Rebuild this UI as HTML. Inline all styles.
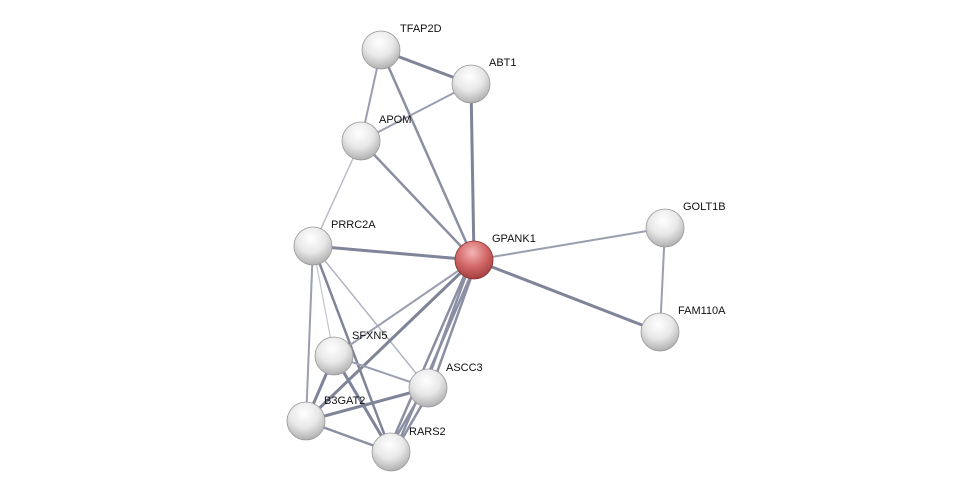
<!DOCTYPE html>
<html><head><meta charset="utf-8"><style>
html,body{margin:0;padding:0;background:#fff;width:976px;height:498px;overflow:hidden}
text{font-family:"Liberation Sans",sans-serif;font-size:11px;fill:#111}
</style></head><body>
<svg width="976" height="498" xmlns="http://www.w3.org/2000/svg">
<defs>
<radialGradient id="w" cx="0.45" cy="0.3" r="0.75">
<stop offset="0" stop-color="#ffffff"/><stop offset="0.5" stop-color="#e8e8e8"/><stop offset="1" stop-color="#a8a8a8"/>
</radialGradient>
<radialGradient id="r" cx="0.45" cy="0.3" r="0.75">
<stop offset="0" stop-color="#f3b5b5"/><stop offset="0.5" stop-color="#d46a6a"/><stop offset="1" stop-color="#9e3a3a"/>
</radialGradient>
</defs>
<g stroke-linecap="round">
<line x1="381" y1="50" x2="471" y2="84" stroke="#7f8499" stroke-width="3"/>
<line x1="381" y1="50" x2="361" y2="141" stroke="#9a9eb0" stroke-width="2"/>
<line x1="381" y1="50" x2="474" y2="260" stroke="#8a8fa3" stroke-width="2.5"/>
<line x1="471" y1="84" x2="361" y2="141" stroke="#9a9eb0" stroke-width="2"/>
<line x1="471" y1="84" x2="474" y2="260" stroke="#7f8499" stroke-width="3"/>
<line x1="361" y1="141" x2="474" y2="260" stroke="#8a8fa3" stroke-width="2.5"/>
<line x1="361" y1="141" x2="313" y2="246" stroke="#b8bbc8" stroke-width="1.5"/>
<line x1="313" y1="246" x2="474" y2="260" stroke="#7f8499" stroke-width="3"/>
<line x1="313" y1="246" x2="428" y2="388" stroke="#b0b3c2" stroke-width="1.5"/>
<line x1="313" y1="246" x2="306" y2="421" stroke="#9a9eb0" stroke-width="2"/>
<line x1="313" y1="246" x2="334" y2="356" stroke="#c4c6d0" stroke-width="1.2"/>
<line x1="313" y1="246" x2="391" y2="452" stroke="#7f8499" stroke-width="2.5"/>
<line x1="474" y1="260" x2="665" y2="228" stroke="#9a9eb0" stroke-width="2"/>
<line x1="474" y1="260" x2="660" y2="332" stroke="#7f8499" stroke-width="3"/>
<line x1="665" y1="228" x2="660" y2="332" stroke="#9a9eb0" stroke-width="2"/>
<line x1="474" y1="260" x2="334" y2="356" stroke="#9a9eb0" stroke-width="2"/>
<line x1="474" y1="260" x2="306" y2="421" stroke="#7f8499" stroke-width="3"/>
<line x1="472" y1="259" x2="425" y2="387" stroke="#8a8fa3" stroke-width="2.5"/>
<line x1="477" y1="261" x2="431" y2="389" stroke="#8a8fa3" stroke-width="2.5"/>
<line x1="471" y1="260" x2="388" y2="451" stroke="#8a8fa3" stroke-width="2.5"/>
<line x1="477" y1="261" x2="394" y2="453" stroke="#8a8fa3" stroke-width="2.5"/>
<line x1="334" y1="356" x2="428" y2="388" stroke="#9a9eb0" stroke-width="2"/>
<line x1="334" y1="356" x2="391" y2="452" stroke="#7f8499" stroke-width="3"/>
<line x1="334" y1="356" x2="306" y2="421" stroke="#7f8499" stroke-width="3"/>
<line x1="306" y1="421" x2="428" y2="388" stroke="#7f8499" stroke-width="3"/>
<line x1="306" y1="421" x2="391" y2="452" stroke="#8a8fa3" stroke-width="2.5"/>
<line x1="425" y1="387" x2="388" y2="451" stroke="#8a8fa3" stroke-width="2.5"/>
<line x1="431" y1="389" x2="394" y2="453" stroke="#8a8fa3" stroke-width="2.5"/>
</g>
<g stroke="#999" stroke-width="0.8">
<circle cx="381" cy="50" r="19" fill="url(#w)"/>
<circle cx="471" cy="84" r="19" fill="url(#w)"/>
<circle cx="361" cy="141" r="19" fill="url(#w)"/>
<circle cx="313" cy="246" r="19" fill="url(#w)"/>
<circle cx="474" cy="260" r="19" fill="url(#r)" stroke="#8a3030"/>
<circle cx="665" cy="228" r="19" fill="url(#w)"/>
<circle cx="660" cy="332" r="19" fill="url(#w)"/>
<circle cx="334" cy="356" r="19" fill="url(#w)"/>
<circle cx="428" cy="388" r="19" fill="url(#w)"/>
<circle cx="306" cy="421" r="19" fill="url(#w)"/>
<circle cx="391" cy="452" r="19" fill="url(#w)"/>
</g>
<text x="400" y="32">TFAP2D</text>
<text x="489" y="66">ABT1</text>
<text x="379" y="123">APOM</text>
<text x="331" y="228">PRRC2A</text>
<text x="492" y="242">GPANK1</text>
<text x="683" y="210">GOLT1B</text>
<text x="678" y="314">FAM110A</text>
<text x="352" y="339">SFXN5</text>
<text x="446" y="371">ASCC3</text>
<text x="324" y="404">B3GAT2</text>
<text x="409" y="435">RARS2</text>
</svg>
</body></html>
